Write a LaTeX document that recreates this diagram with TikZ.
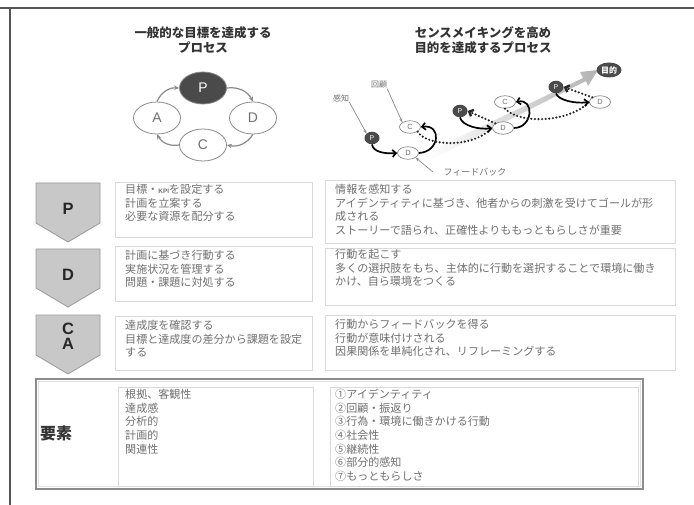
\documentclass[tikz,border=0pt]{standalone}
\usepackage{fontspec}
\setmainfont{Noto Sans CJK JP}
\newfontfamily\lat{Liberation Sans}
\usetikzlibrary{arrows.meta,shapes.geometric}
\definecolor{txtcol}{HTML}{707070}
\definecolor{titlecol}{HTML}{333333}
\definecolor{framecol}{HTML}{555555}
\definecolor{boxcol}{HTML}{D9D9D9}
\definecolor{chevfill}{HTML}{C8C8C8}
\definecolor{chevline}{HTML}{999999}
\definecolor{darknode}{HTML}{4A4A4A}
\definecolor{cyccol}{HTML}{8A8A8A}
\tikzset{
  titletxt/.style={align=center, text=titlecol, inner sep=0, font=\bfseries\fontsize{12.5}{14.5}\selectfont},
  cyc/.style={ellipse, draw=cyccol, line width=0.8bp, minimum width=47bp, minimum height=32bp, inner sep=0, text=txtcol, font=\lat\fontsize{14}{14}\selectfont},
  cycarrow/.style={draw=cyccol, line width=1.2bp, -{Stealth[length=5bp,width=4.5bp]}},
  sp/.style={ellipse, fill=darknode, minimum width=15bp, minimum height=12.5bp, inner sep=0, text=white, font=\lat\fontsize{7}{7}\selectfont},
  sw/.style={ellipse, draw=cyccol, fill=white, line width=0.7bp, minimum width=21bp, minimum height=12.5bp, inner sep=0, text=txtcol, font=\lat\fontsize{7.5}{7.5}\selectfont},
  conn/.style={draw=black, line width=1.7bp, -{Straight Barb[length=3.5bp,width=7bp]}},
  dotconn/.style={draw=black!85, line width=2.4bp, dash pattern=on 0bp off 3.6bp, line cap=round},
  dotarrow/.style={dotconn, -{Straight Barb[length=3.5bp,width=7bp,line cap=butt]}},
  labarrow/.style={draw=cyccol, line width=0.7bp, -{Stealth[length=4bp,width=3bp]}},
  smalllab/.style={inner sep=0, text=txtcol, font=\fontsize{8}{8}\selectfont},
  chevron/.style={fill=chevfill, draw=chevline, line width=0.8bp},
  chevtxt/.style={inner sep=0, text=black!85, font=\lat\bfseries\fontsize{16.5}{15}\selectfont},
  boxline/.style={draw=boxcol, line width=0.8bp},
  bodytxt/.style={anchor=north west, inner sep=0, align=left, text=txtcol, font=\fontsize{11.1}{13.7}\selectfont},
}
\begin{document}
\begin{tikzpicture}[x=1bp,y=-1bp]
\useasboundingbox (0,0) rectangle (694,505);
\fill[white] (0,0) rectangle (694,505);
% frame
\draw[framecol, line width=1.5bp] (0,8) -- (694,8);
\draw[framecol, line width=1.2bp] (10,8) -- (10,505);

% titles
\node[titletxt] (t1) at (203,40) {一般的な目標を達成する\\プロセス};
\node[titletxt] (t2) at (483,40) {センスメイキングを高め\\目的を達成するプロセス};

% PDCA cycle
\node[cyc, fill=darknode, text=white] (cP) at (203,88) {P};
\node[cyc] (cA) at (157,118) {A};
\node[cyc] (cD) at (253,118) {D};
\node[cyc] (cC) at (203,145) {C};
\draw[cycarrow] (cA.north) to[bend left=35] (cP.west);
\draw[cycarrow] (cP.east) to[bend left=35] (cD.north);
\draw[cycarrow] (cD.south) to[bend left=35] (cC.east);
\draw[cycarrow] (cC.west) to[bend left=35] (cA.south);

% sensemaking band
\shade[left color=white, right color=black!30] (428,152) -- (583,78) -- (580,72) -- (598,70) -- (588,86) -- (586,81) -- (432,159) -- cycle;

% sensemaking nodes
\node[sp] (s1P) at (372,138) {P};
\node[sw] (s1D) at (408,153) {D};
\node[sw] (s1C) at (410,127) {C};
\node[sp] (s2P) at (460,111) {P};
\node[sw] (s2D) at (503,128) {D};
\node[sw] (s2C) at (505,102) {C};
\node[sp] (s3P) at (556,87) {P};
\node[sw] (s3D) at (600,102) {D};
\node[sp, minimum width=25bp, minimum height=15bp, font=\bfseries\fontsize{8}{8}\selectfont] (goal) at (609,70) {目的};

\draw[conn] (s1P.south) .. controls (373,152) and (385,154) .. (s1D.west);
\draw[conn] (s1D.east) .. controls (440,152) and (442,124) .. (s1C.east);
\draw[dotconn] (s1C.south east) .. controls (425,145) and (470,150) .. (s2D.west);
\draw[conn] (s2P.south) .. controls (462,126) and (480,130) .. (s2D.west);
\draw[dotarrow] (s2D.north west) -- (s2P.east);
\draw[conn] (s2D.east) .. controls (533,128) and (535,98) .. (s2C.east);
\draw[dotconn] (s2C.south) .. controls (520,125) and (570,122) .. (s3D.west);
\draw[conn] (s3P.south) .. controls (558,100) and (575,104) .. (s3D.west);
\draw[dotarrow] (s3D.north west) -- (s3P.east);

\node[smalllab] (lk) at (341,98) {感知};
\node[smalllab] (lr) at (379,85) {回顧};
\node[smalllab, font=\fontsize{9}{9}\selectfont] (lf) at (475,172) {フィードバック};
\draw[labarrow] (lk.south east) -- (s1P.north west);
\draw[labarrow] (lr.south east) -- (s1C.north west);
\coordinate (fstart) at (433,172);
\draw[labarrow] (fstart) -- (s1D.south east);

% chevrons
\draw[chevron] (36,183) -- (100,183) -- (100,223) -- (68,242) -- (36,223) -- cycle;
\node[chevtxt] (hP) at (68,209) {P};
\draw[chevron] (36,249) -- (100,249) -- (100,288) -- (68,307) -- (36,288) -- cycle;
\node[chevtxt] (hD) at (68,275) {D};
\draw[chevron] (36,315) -- (100,315) -- (100,355) -- (68,374) -- (36,355) -- cycle;
\node[chevtxt] (hC) at (68,329) {C};
\node[chevtxt] (hA) at (68,344) {A};

% row boxes
\draw[boxline] (115,182) rectangle (312,237);
\draw[boxline] (325,180) rectangle (675,243);
\draw[boxline] (115,246) rectangle (312,301);
\draw[boxline] (325,248) rectangle (675,305);
\draw[boxline] (115,316) rectangle (312,370);
\draw[boxline] (325,315) rectangle (675,370);

\node[bodytxt] (pl) at (125,184) {目標・{\lat\bfseries\fontsize{6.5}{6.5}\selectfont KPI}を設定する\\計画を立案する\\必要な資源を配分する};
\node[bodytxt] (pr) at (335,184) {情報を感知する\\アイデンティティに基づき、他者からの刺激を受けてゴールが形\\成される\\ストーリーで語られ、正確性よりももっともらしさが重要};
\node[bodytxt] (dl) at (125,250) {計画に基づき行動する\\実施状況を管理する\\問題・課題に対処する};
\node[bodytxt] (dr) at (335,249) {行動を起こす\\多くの選択肢をもち、主体的に行動を選択することで環境に働き\\かけ、自ら環境をつくる};
\node[bodytxt] (cl) at (125,320) {達成度を確認する\\目標と達成度の差分から課題を設定\\する};
\node[bodytxt] (cr) at (335,319) {行動からフィードバックを得る\\行動が意味付けされる\\因果関係を単純化され、リフレーミングする};

% elements box
\draw[draw=black!45, line width=1.3bp] (36,379) rectangle (643,489);
\draw[draw=black!12, line width=0.8bp] (38.5,381.5) rectangle (640.5,486.5);
\node[inner sep=0, text=titlecol, font=\bfseries\fontsize{16}{16}\selectfont, anchor=west] (el) at (40,433) {要素};
\draw[boxline] (118,387) rectangle (313,486);
\draw[boxline] (330,387) rectangle (638,486);
\node[bodytxt] (el1) at (125,389) {根拠、客観性\\達成感\\分析的\\計画的\\関連性};
\node[bodytxt] (el2) at (335,389) {①アイデンティティ\\②回顧・振返り\\③行為・環境に働きかける行動\\④社会性\\⑤継続性\\⑥部分的感知\\⑦もっともらしさ};
\end{tikzpicture}
\end{document}
